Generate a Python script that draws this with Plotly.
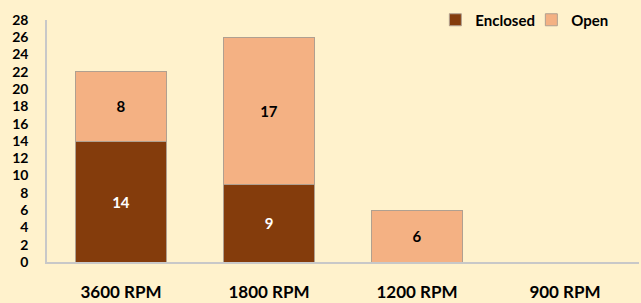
import plotly.graph_objects as go

categories = ["3600 RPM", "1800 RPM", "1200 RPM", "900 RPM"]
enclosed = [14, 9, 0, 0]
open_ = [8, 17, 6, 0]

bg = "#FFF2CC"
font_family = "Lato, 'Open Sans', sans-serif"

def labels(vals):
    return [str(v) if v else "" for v in vals]

fig = go.Figure()
fig.add_trace(go.Bar(
    name="Enclosed", x=categories, y=enclosed,
    marker=dict(color="#843C0C", line=dict(color="#B0A090", width=1)),
    text=labels(enclosed), textposition="inside", insidetextanchor="middle",
    textfont=dict(color="white", size=15, family=font_family, weight="bold"),
))
fig.add_trace(go.Bar(
    name="Open", x=categories, y=open_,
    marker=dict(color="#F4B183", line=dict(color="#B0A090", width=1)),
    text=labels(open_), textposition="inside", insidetextanchor="middle",
    textfont=dict(color="black", size=15, family=font_family, weight="bold"),
))

fig.update_layout(
    barmode="stack",
    bargap=0.39,
    width=641, height=303,
    margin=dict(l=47, r=2, t=20, b=41, autoexpand=False),
    paper_bgcolor=bg, plot_bgcolor=bg,
    font=dict(family=font_family, color="black"),
    uniformtext=dict(mode="show", minsize=10),
    legend=dict(
        orientation="h", x=0.656, y=1.0, xanchor="left", yanchor="middle",
        font=dict(size=15, family=font_family, weight="bold"),
        bgcolor="rgba(0,0,0,0)", traceorder="normal",
        itemwidth=30, entrywidth=51,
    ),
    showlegend=True,
)
fig.update_xaxes(
    showline=True, linecolor="#C8C8C8", linewidth=1.5,
    showgrid=False, ticks="",
    tickfont=dict(size=17, family=font_family, weight="bold"),
    ticklabelstandoff=14,
)
fig.update_yaxes(
    range=[0, 28], dtick=2, tick0=0,
    showline=True, linecolor="#C8C8C8", linewidth=1.5,
    showgrid=False, zeroline=False, ticks="",
    tickfont=dict(size=14, family=font_family, weight="bold"),
    ticklabelstandoff=14,
)

fig.write_html("out.html", config={"displayModeBar": False},
               post_script="document.body.style.margin='0px';document.body.style.background='%s';" % bg)
